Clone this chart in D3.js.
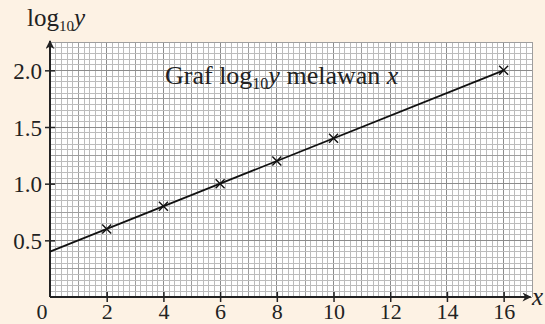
<!DOCTYPE html>
<html>
<head>
<meta charset="utf-8">
<script src="https://cdn.jsdelivr.net/npm/d3@7"></script>
<style>
  body { margin: 0; background: #fdf2e4; }
  svg { display: block; font-family: "Liberation Serif", "DejaVu Serif", serif; }
</style>
</head>
<body>
<svg id="chart"></svg>
<script>
// data
const xValues = [2, 4, 6, 8, 10, 16];
const logYValues = [0.6, 0.8, 1.0, 1.2, 1.4, 2.0];
const lineX = [0, 16];
const lineY = [0.4, 2.0];
const xTicks = [2, 4, 6, 8, 10, 12, 14, 16];
const yTicks = [0.5, 1.0, 1.5, 2.0];

const width = 545, height = 324;
const margin = {top: 42, right: 13, bottom: 27, left: 50};

const svg = d3.select('#chart')
    .attr('width', width)
    .attr('height', height);

const x = d3.scaleLinear().domain([0, 17]).range([margin.left, width - margin.right]);
const y = d3.scaleLinear().domain([0, 2.25]).range([height - margin.bottom, margin.top]);

// graph paper
svg.append('rect')
    .attr('x', x(0)).attr('y', y(2.25))
    .attr('width', x(17) - x(0)).attr('height', y(0) - y(2.25))
    .attr('fill', '#fff');

const grid = svg.append('g').attr('class', 'grid')
    .attr('shape-rendering', 'crispEdges');
const xLines = d3.range(0, 86).map(i => i / 5);
const yLines = d3.range(0, 46).map(i => i / 20);
const gridColor = i => i % 10 === 0 ? '#8c8c8c' : (i % 5 === 0 ? '#9e9e9e' : '#bcbcbc');

grid.selectAll('.vline')
    .data(xLines)
    .enter().append('line')
    .attr('x1', d => x(d)).attr('x2', d => x(d))
    .attr('y1', y(0)).attr('y2', y(2.25))
    .attr('stroke', (d, i) => gridColor(i))
    .attr('stroke-width', 1);

grid.selectAll('.hline')
    .data(yLines)
    .enter().append('line')
    .attr('x1', x(0)).attr('x2', x(17))
    .attr('y1', d => y(d)).attr('y2', d => y(d))
    .attr('stroke', (d, i) => gridColor(i))
    .attr('stroke-width', 1);

// axes
const xAxis = d3.axisBottom(x).tickValues(xTicks).tickSize(5).tickPadding(1.5);
const yAxis = d3.axisLeft(y).tickValues(yTicks).tickSize(5).tickPadding(3)
    .tickFormat(d3.format('.1f'));

const xAxisG = svg.append('g')
    .attr('transform', `translate(0,${y(0)})`)
    .call(xAxis)
    .call(g => g.select('.domain').remove());
xAxisG.selectAll('.tick line').attr('y1', -5).attr('stroke', '#222').attr('stroke-width', 1.5);
xAxisG.selectAll('.tick text')
    .attr('font-size', 22).attr('fill', '#222').attr('font-family', 'Liberation Serif');

const yAxisG = svg.append('g')
    .attr('transform', `translate(${x(0)},0)`)
    .call(yAxis)
    .call(g => g.select('.domain').remove());
yAxisG.selectAll('.tick line').attr('x1', 5).attr('stroke', '#222').attr('stroke-width', 1.5);
yAxisG.selectAll('.tick text')
    .attr('font-size', 23).attr('fill', '#222').attr('font-family', 'Liberation Serif')
    .attr('dy', '0.35em');

svg.append('defs').append('marker')
    .attr('id', 'arrow')
    .attr('viewBox', '0 0 10 10')
    .attr('refX', 9).attr('refY', 5)
    .attr('markerWidth', 9).attr('markerHeight', 9)
    .attr('markerUnits', 'userSpaceOnUse')
    .attr('orient', 'auto')
    .append('path')
    .attr('d', 'M0,0 L10,5 L0,10 L3,5 Z')
    .attr('fill', '#222');

svg.append('line')
    .attr('x1', x(0)).attr('y1', y(0))
    .attr('x2', x(16.95)).attr('y2', y(0))
    .attr('stroke', '#222').attr('stroke-width', 2)
    .attr('marker-end', 'url(#arrow)');

svg.append('line')
    .attr('x1', x(0)).attr('y1', y(0))
    .attr('x2', x(0)).attr('y2', y(2.25) - 1)
    .attr('stroke', '#222').attr('stroke-width', 2)
    .attr('marker-end', 'url(#arrow)');

// origin label
svg.append('text')
    .attr('x', x(0) - 8).attr('y', y(0) + 22)
    .attr('text-anchor', 'middle')
    .attr('font-size', 22).attr('fill', '#222')
    .text('0');

// axis names
const yName = svg.append('text')
    .attr('x', 27).attr('y', 26)
    .attr('font-size', 25).attr('fill', '#222');
yName.append('tspan').text('log');
yName.append('tspan').attr('font-size', 15).attr('dy', 5).text('10');
yName.append('tspan').attr('font-style', 'italic').attr('dy', -5).text('y');

svg.append('text')
    .attr('x', 532).attr('y', y(0) + 8)
    .attr('font-size', 25).attr('font-style', 'italic').attr('fill', '#222')
    .text('x');

// title
const title = svg.append('text')
    .attr('x', 165).attr('y', 84)
    .attr('font-size', 26).attr('fill', '#222');
title.append('tspan').text('Graf log');
title.append('tspan').attr('font-size', 16).attr('dy', 5).text('10');
title.append('tspan').attr('font-style', 'italic').attr('dy', -5).text('y');
title.append('tspan').text(' melawan ');
title.append('tspan').attr('font-style', 'italic').text('x');

// best fit line
svg.append('line')
    .attr('x1', x(lineX[0])).attr('y1', y(lineY[0]))
    .attr('x2', x(lineX[1])).attr('y2', y(lineY[1]))
    .attr('stroke', '#111').attr('stroke-width', 1.8);

// plotted points as crosses
const pts = xValues.map((v, i) => ({x: v, y: logYValues[i]}));
const s = 4.5;
svg.selectAll('.point')
    .data(pts)
    .enter().append('path')
    .attr('class', 'point')
    .attr('d', d => {
      const cx = x(d.x), cy = y(d.y);
      return `M${cx - s},${cy - s}L${cx + s},${cy + s}M${cx - s},${cy + s}L${cx + s},${cy - s}`;
    })
    .attr('stroke', '#111').attr('stroke-width', 1.4);
</script>
</body>
</html>
